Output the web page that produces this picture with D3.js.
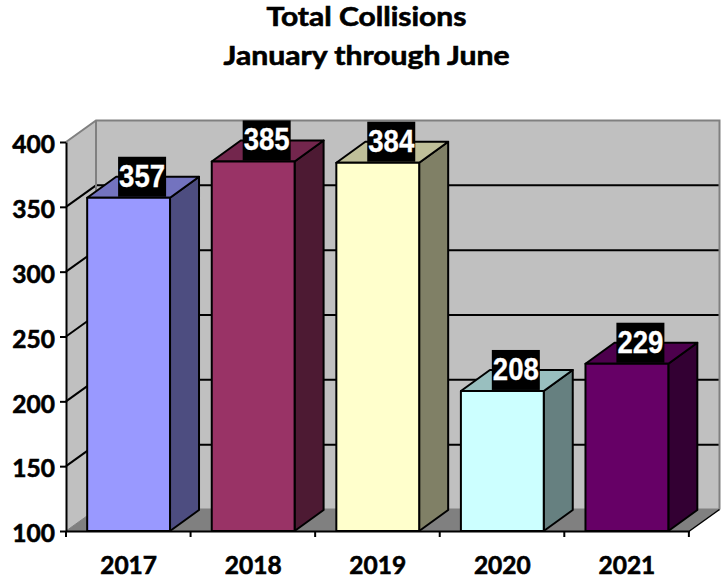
<!DOCTYPE html>
<html>
<head>
<meta charset="utf-8">
<script src="https://cdn.jsdelivr.net/npm/d3@7"></script>
<style>
  html, body { margin: 0; padding: 0; background: #fff; }
  svg { display: block; }
  .axis text, .title { font-family: Lato, sans-serif; font-weight: 700; fill: #000; stroke: #000; stroke-width: 0.6px; }
  .axis text { font-size: 24.5px; }
  .title { font-size: 26px; text-anchor: middle; }
  .value { font-family: "Liberation Sans", Arial, sans-serif; font-weight: 700; font-size: 30.5px; fill: #fff; stroke: #fff; stroke-width: 0.3px; text-anchor: middle; }
</style>
</head>
<body>
<div class="chart"></div>
<script>
var years = ['2017', '2018', '2019', '2020', '2021'];
var collisions = [357, 385, 384, 208, 229];
var barColors = ['#9999ff', '#993366', '#ffffcc', '#ccffff', '#660066'];
var yTicks = [100, 150, 200, 250, 300, 350, 400];
var titleLines = ['Total Collisions', 'January through June'];

var width = 722, height = 581;
var plot = {left: 66, right: 689.5, top: 142, bottom: 531};
var depth = {x: 30, y: 21.5}; // fake 3d offset, back wall vs front plane

var svg = d3.select('.chart')
  .append('svg')
    .attr('width', width)
    .attr('height', height);

var xScale = d3.scaleBand()
  .domain(years)
  .range([plot.left, plot.right])
  .paddingInner(0.335)
  .paddingOuter(0.17);

var yScale = d3.scaleLinear()
  .domain([100, 400])
  .range([plot.bottom, plot.top]);

function poly(points) {
  return points.map(p => p.join(',')).join(' ');
}

function shade(color, k) {
  var c = d3.rgb(color);
  return d3.rgb(c.r * k, c.g * k, c.b * k).formatHex();
}

// walls and floor
var backL = plot.left + depth.x, backR = plot.right + depth.x;
var backT = plot.top - depth.y, backB = plot.bottom - depth.y;

svg.append('polygon')
  .attr('points', poly([[backL, backT], [backR, backT], [backR, backB], [backL, backB]]))
  .attr('fill', '#c0c0c0');
svg.append('polygon')
  .attr('points', poly([[plot.left, plot.top], [backL, backT], [backL, backB], [plot.left, plot.bottom]]))
  .attr('fill', '#c0c0c0');
svg.append('polygon')
  .attr('points', poly([[plot.left, plot.bottom], [backL, backB], [backR, backB], [plot.right, plot.bottom]]))
  .attr('fill', '#808080');

// gridlines, front plane value pushed back along the side wall
var grid = yTicks.slice(1, -1);
svg.selectAll('.grid-back')
  .data(grid)
  .enter()
  .append('line')
    .attr('x1', backL)
    .attr('x2', backR)
    .attr('y1', d => yScale(d) - depth.y)
    .attr('y2', d => yScale(d) - depth.y)
    .attr('stroke', '#000')
    .attr('stroke-width', 2);
svg.selectAll('.grid-side')
  .data(grid)
  .enter()
  .append('line')
    .attr('x1', plot.left)
    .attr('x2', backL)
    .attr('y1', d => yScale(d))
    .attr('y2', d => yScale(d) - depth.y)
    .attr('stroke', '#000')
    .attr('stroke-width', 2);

// wall outline
svg.append('polyline')
  .attr('points', poly([[plot.left, plot.top], [backL, backT], [backR, backT], [backR, backB]]))
  .attr('fill', 'none')
  .attr('stroke', '#808080')
  .attr('stroke-width', 2);
svg.append('polyline')
  .attr('points', poly([[backL, backT], [backL, backB], [backR, backB]]))
  .attr('fill', 'none')
  .attr('stroke', '#808080')
  .attr('stroke-width', 2);
svg.append('line')
  .attr('x1', plot.left).attr('y1', plot.bottom)
  .attr('x2', backL).attr('y2', backB)
  .attr('stroke', '#808080')
  .attr('stroke-width', 1);
svg.append('line')
  .attr('x1', plot.right).attr('y1', plot.bottom)
  .attr('x2', backR).attr('y2', backB)
  .attr('stroke', '#000')
  .attr('stroke-width', 1.5);

// bars
var bars = svg.selectAll('.bar')
  .data(years)
  .enter()
  .append('g')
    .attr('class', 'bar')
    .attr('stroke', '#000')
    .attr('stroke-width', 2)
    .attr('stroke-linejoin', 'round');

var barDx = 29, barDy = 21;

bars.append('polygon')
  .attr('fill', (d, i) => shade(barColors[i], 0.5))
  .attr('points', (d, i) => {
    var x = xScale(d) + xScale.bandwidth(), y = yScale(collisions[i]);
    return poly([[x, y], [x + barDx, y - barDy], [x + barDx, plot.bottom - barDy], [x, plot.bottom]]);
  });

bars.append('polygon')
  .attr('fill', (d, i) => shade(barColors[i], 0.75))
  .attr('points', (d, i) => {
    var x = xScale(d), w = xScale.bandwidth(), y = yScale(collisions[i]);
    return poly([[x, y], [x + barDx, y - barDy], [x + w + barDx, y - barDy], [x + w, y]]);
  });

bars.append('rect')
  .attr('fill', (d, i) => barColors[i])
  .attr('x', d => xScale(d))
  .attr('y', (d, i) => yScale(collisions[i]))
  .attr('width', xScale.bandwidth())
  .attr('height', (d, i) => plot.bottom - yScale(collisions[i]));

// axes
var yAxis = svg.append('g')
  .attr('class', 'axis')
  .attr('transform', `translate(${plot.left}, 0)`)
  .call(d3.axisLeft(yScale).tickValues(yTicks).tickSize(6).tickPadding(5).tickSizeOuter(0));

yAxis.selectAll('text').attr('dy', '0.44em');

var xAxis = svg.append('g')
  .attr('class', 'axis')
  .attr('transform', `translate(0, ${plot.bottom})`)
  .call(d3.axisBottom(xScale).tickSize(0).tickPadding(26).tickSizeOuter(0));

// ticks sit between the categories, not under them
var step = xScale.step();
xAxis.selectAll('.sep')
  .data(d3.range(years.length + 1))
  .enter()
  .append('line')
    .attr('x1', i => plot.left + i * step)
    .attr('x2', i => plot.left + i * step)
    .attr('y1', 0)
    .attr('y2', 6)
    .attr('stroke', '#000');

svg.selectAll('.axis path, .axis line').attr('stroke', '#000').attr('stroke-width', 2);

// value labels, white on black, shifted toward the bar's back edge
var labels = svg.selectAll('.label')
  .data(years)
  .enter()
  .append('g')
    .attr('class', 'label')
    .attr('transform', (d, i) => `translate(${xScale(d) + xScale.bandwidth() / 2 + 13.5}, ${yScale(collisions[i])})`);

labels.append('rect')
  .attr('x', -24)
  .attr('y', -41)
  .attr('width', 48)
  .attr('height', 40)
  .attr('fill', '#000');

labels.append('text')
  .attr('class', 'value')
  .attr('y', -11)
  .attr('textLength', 46)
  .attr('lengthAdjust', 'spacingAndGlyphs')
  .text((d, i) => collisions[i]);

// title, stretched to the width of the original's wider font
var titleWidths = [200, 286];

svg.selectAll('.title')
  .data(titleLines)
  .enter()
  .append('text')
    .attr('class', 'title')
    .attr('x', 366.5)
    .attr('y', (d, i) => 25.5 + i * 39)
    .attr('textLength', (d, i) => titleWidths[i])
    .attr('lengthAdjust', 'spacingAndGlyphs')
    .text(d => d);
</script>
</body>
</html>
